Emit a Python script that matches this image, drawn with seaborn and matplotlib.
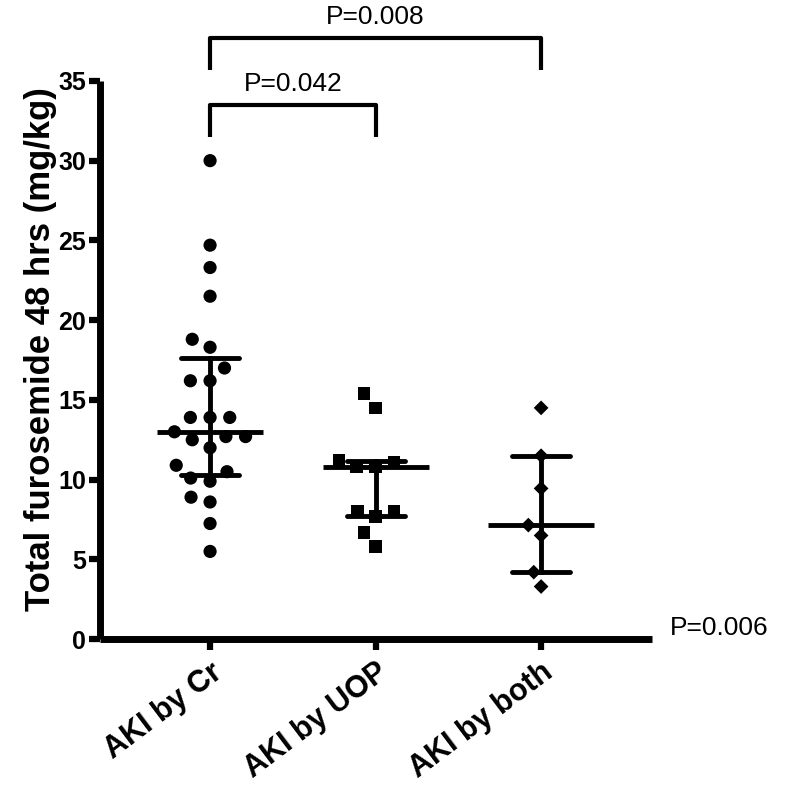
import numpy as np
import pandas as pd
import matplotlib
matplotlib.use("Agg")
import matplotlib.pyplot as plt
import seaborn as sns

# values (mg/kg)
groups = ["AKI by Cr", "AKI by UOP", "AKI by both"]
aki_cr = [30.0, 24.7, 23.3, 21.5, 18.8, 18.3, 17.0, 16.2, 16.2, 13.9, 13.9, 13.9,
          13.0, 12.7, 12.7, 12.5, 12.0, 10.9, 10.5, 10.1, 9.9, 8.9, 8.6, 7.25, 5.5]
aki_uop = [15.4, 14.5, 11.1, 11.2, 10.8, 10.8, 8.0, 8.0, 7.7, 6.7, 5.8]
aki_both = [14.5, 11.5, 9.45, 7.15, 6.5, 4.2, 3.3]
markers = ["o", "s", "D"]
brackets = [(0, 2, "P=0.008"), (0, 1, "P=0.042")]
overall_p = "P=0.006"

df = pd.DataFrame({
    "group": np.repeat(groups, [len(aki_cr), len(aki_uop), len(aki_both)]),
    "value": aki_cr + aki_uop + aki_both,
})


def iqr(x):
    # Prism style quartiles
    return (np.percentile(x, 25, method="weibull"),
            np.percentile(x, 75, method="weibull"))


sns.set_style("ticks", {"axes.edgecolor": "black", "xtick.color": "black",
                        "ytick.color": "black", "text.color": "black",
                        "axes.labelcolor": "black"})
plt.rcParams["font.family"] = ["Liberation Sans", "DejaVu Sans"]

fig = plt.figure(figsize=(8, 7.93), dpi=100)
ax = fig.add_axes([0.125, 0.194, 0.69, 0.704])

# invisible edge widens the swarm spacing a little, like the reference
sizes = {"o": 9.5, "s": 9, "D": 7.5}
for g, m in zip(groups, markers):
    sns.swarmplot(data=df[df.group == g], x="group", y="value", order=groups,
                  marker=m, color="black", size=sizes[m], linewidth=4,
                  edgecolor="none", ax=ax)

sns.pointplot(data=df, x="group", y="value", order=groups, estimator="median",
              errorbar=iqr, capsize=0.35, color="black", linestyle="none",
              marker="_", markersize=76, markeredgewidth=3.5,
              err_kws={"linewidth": 3.5}, ax=ax)

ax.set_ylim(0, 35)
ax.set_xlim(-0.665, 2.67)
ax.set_yticks(range(0, 36, 5))
ax.set_xlabel("")
ax.set_ylabel("Total furosemide 48 hrs (mg/kg)", fontsize=25, fontweight="bold")
ax.yaxis.set_label_coords(-0.078, 0.52)
sns.despine(ax=ax)
for s in ["left", "bottom"]:
    ax.spines[s].set_linewidth(5)
    ax.spines[s].set_capstyle("butt")
ax.tick_params(axis="both", length=8, width=4.5, pad=2)
ax.tick_params(axis="x", pad=5)
for lab in ax.get_yticklabels():
    lab.set_fontsize(18)
    lab.set_fontweight("bold")
ax.set_xticks(range(len(groups)))
ax.set_xticklabels(groups, rotation=37, ha="right", rotation_mode="anchor",
                   fontsize=22, fontweight="bold")

# significance brackets above the plot
levels = [(35.7, 37.7), (31.5, 33.5)]
for (a, b, txt), (lo, hi) in zip(brackets, levels):
    ax.plot([a, a, b, b], [lo, hi, hi, lo], color="black", lw=3,
            clip_on=False, solid_capstyle="butt")
    ax.text((a + b) / 2, hi + 0.55, txt, ha="center", va="bottom", fontsize=19)

ax.text(2.78, 0.25, overall_p, ha="left", va="baseline", fontsize=19)

fig.savefig("out.png", dpi=100)
